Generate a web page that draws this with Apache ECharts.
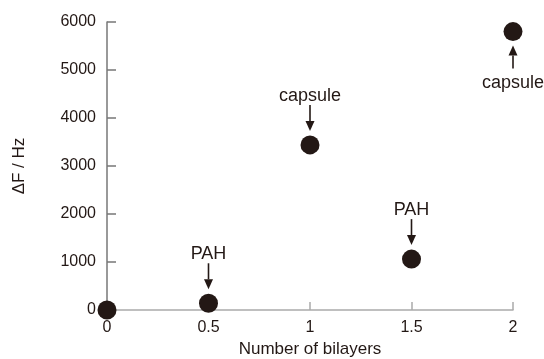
<!DOCTYPE html>
<html>
<head>
<meta charset="utf-8">
<script src="https://cdn.jsdelivr.net/npm/echarts@6/dist/echarts.min.js"></script>
<style>html,body{margin:0;padding:0;background:#fff}#c{width:544px;height:359px}</style>
</head>
<body>
<div id="c"></div>
<script>
var xValues = [0, 0.5, 1, 1.5, 2];
var yValues = [0, 140, 3440, 1060, 5800];
var annotationText = ['', 'PAH', 'capsule', 'PAH', 'capsule'];
var annotationSide = ['', 'above', 'above', 'above', 'below'];
var xTicks = [0, 0.5, 1, 1.5, 2];
var yTicks = [0, 1000, 2000, 3000, 4000, 5000, 6000];

var ink = '#231815';
var font = 'Liberation Sans, Arial, sans-serif';
var chart = echarts.init(document.getElementById('c'), null, {renderer: 'canvas'});
var points = xValues.map(function (x, i) { return [x, yValues[i]]; });

chart.setOption({
  animation: false,
  grid: {left: 107, right: 31, top: 22, bottom: 49, containLabel: false, outerBoundsMode: 'none'},
  xAxis: {
    type: 'value', min: xTicks[0], max: xTicks[xTicks.length - 1], interval: 0.5,
    name: 'Number of bilayers', nameLocation: 'middle', nameGap: 30,
    nameTextStyle: {fontFamily: font, fontSize: 17, color: ink},
    axisLine: {lineStyle: {color: '#aaa', width: 1.5}},
    axisTick: {inside: true, length: 8, lineStyle: {color: '#aaa', width: 1.5}},
    axisLabel: {fontFamily: font, fontSize: 16, color: ink, margin: 10,
      formatter: function (v) { return String(v); }},
    splitLine: {show: false}
  },
  yAxis: {
    type: 'value', min: yTicks[0], max: yTicks[yTicks.length - 1], interval: 1000,
    name: 'ΔF / Hz', nameLocation: 'middle', nameGap: 79,
    nameTextStyle: {fontFamily: font, fontSize: 17, color: ink},
    axisLine: {lineStyle: {color: '#777', width: 1.5}},
    axisTick: {inside: true, length: 9, lineStyle: {color: '#777', width: 1.5}},
    axisLabel: {fontFamily: font, fontSize: 16, color: ink, margin: 11,
      formatter: function (v) { return String(v); }},
    splitLine: {show: false}
  },
  series: [{
    type: 'scatter', data: points, symbolSize: 19, clip: false,
    itemStyle: {color: ink, opacity: 1}, z: 5
  }]
});

function arrow(cx, tipY, tailY) {
  var dir = tipY > tailY ? 1 : -1;
  var headLen = 10, headHalf = 4.5;
  return [
    {type: 'line', shape: {x1: cx, y1: tailY, x2: cx, y2: tipY - dir * headLen},
     style: {stroke: ink, lineWidth: 1.6}},
    {type: 'polygon', shape: {points: [[cx - headHalf, tipY - dir * headLen], [cx + headHalf, tipY - dir * headLen], [cx, tipY]]},
     style: {fill: ink}}
  ];
}

var elements = [];
points.forEach(function (p, i) {
  if (!annotationText[i]) return;
  var px = chart.convertToPixel({gridIndex: 0}, p);
  var cx = px[0], cy = px[1];
  if (annotationSide[i] === 'above') {
    elements = elements.concat(arrow(cx, cy - 14, cy - 40));
    elements.push({type: 'text', x: cx, y: cy - 49,
      style: {text: annotationText[i], fontFamily: font, fontSize: 18, fill: ink, align: 'center', verticalAlign: 'middle'}});
  } else {
    elements = elements.concat(arrow(cx, cy + 14, cy + 37));
    elements.push({type: 'text', x: cx, y: cy + 51,
      style: {text: annotationText[i], fontFamily: font, fontSize: 18, fill: ink, align: 'center', verticalAlign: 'middle'}});
  }
});
chart.setOption({graphic: {elements: elements}});
</script>
</body>
</html>
